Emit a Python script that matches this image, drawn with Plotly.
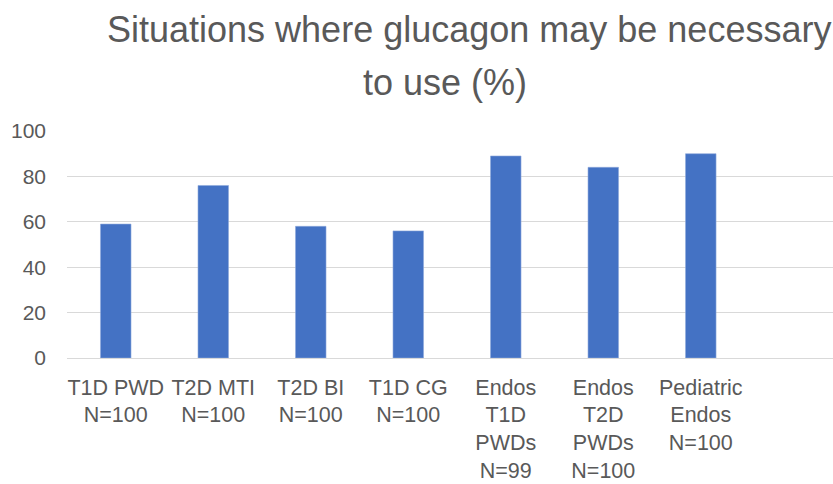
import plotly.graph_objects as go

categories = [
    "T1D PWD<br>N=100",
    "T2D MTI<br>N=100",
    "T2D BI<br>N=100",
    "T1D CG<br>N=100",
    "Endos<br>T1D<br>PWDs<br>N=99",
    "Endos<br>T2D<br>PWDs<br>N=100",
    "Pediatric<br>Endos<br>N=100",
]
values = [59, 76, 58, 56, 89, 84, 90]
y_ticks = [0, 20, 40, 60, 80, 100]
title_line1 = "Situations where glucagon may be necessary"
title_line2 = "to use (%)"

W, H = 833, 484
ML, MR, MT, MB = 67, 0, 131, 126
pw = W - ML - MR
ph = H - MT - MB

def px_x(px):
    return (px - ML) / pw

def px_y(py):
    return (H - MB - py) / ph

FONT = "Liberation Sans, Arial, sans-serif"
GREY = "#595959"

fig = go.Figure(
    go.Bar(
        x=categories,
        y=values,
        marker=dict(color="#4472C4", line=dict(color="#8FAADC", width=0.6)),
        hoverinfo="skip",
    )
)

fig.update_layout(
    width=W,
    height=H,
    margin=dict(l=ML, r=MR, t=MT, b=MB, autoexpand=False),
    paper_bgcolor="white",
    plot_bgcolor="white",
    bargap=0.687,
    showlegend=False,
    font=dict(family=FONT, color=GREY),
)

fig.update_xaxes(
    type="category",
    range=[-0.5, 7.356],
    automargin=False,
    showgrid=False,
    showline=False,
    zeroline=False,
    ticks="",
    ticklabelstandoff=14,
    tickfont=dict(size=21.5, color=GREY, family=FONT),
    tickangle=0,
)
fig.update_yaxes(
    range=[0, 100],
    automargin=False,
    tickvals=y_ticks,
    ticktext=[str(v) for v in y_ticks],
    showgrid=True,
    gridcolor="#D9D9D9",
    gridwidth=1.3,
    zeroline=True,
    zerolinecolor="#D9D9D9",
    zerolinewidth=1.3,
    showline=False,
    ticks="",
    ticklabelstandoff=20,
    tickfont=dict(size=21, color=GREY, family=FONT),
)

fig.add_annotation(
    text=title_line1, xref="paper", yref="paper",
    x=px_x(105), y=px_y(29), xanchor="left", yanchor="middle",
    showarrow=False, font=dict(size=36, color=GREY, family=FONT),
)
fig.add_annotation(
    text=title_line2, xref="paper", yref="paper",
    x=px_x(361), y=px_y(82), xanchor="left", yanchor="middle",
    showarrow=False, font=dict(size=36, color=GREY, family=FONT),
)

fig.write_html(
    "out.html",
    config={"displayModeBar": False},
    post_script="document.body.style.margin='0';document.body.style.overflow='hidden';",
)
